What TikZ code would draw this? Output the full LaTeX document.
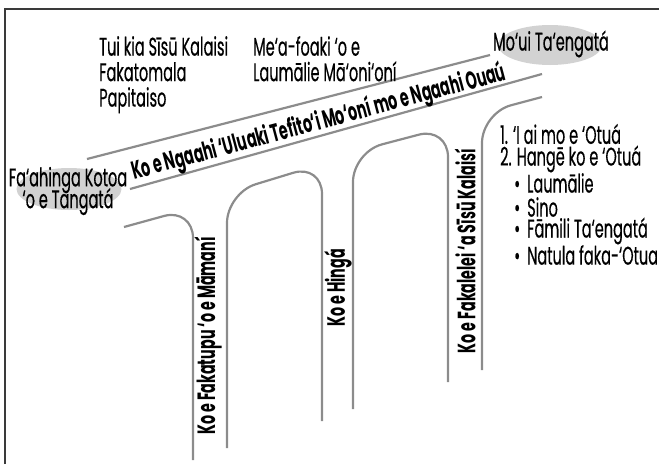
\documentclass[tikz,border=0pt]{standalone}
\usepackage{fontspec}
\setmainfont{Poppins}[FakeStretch=0.57]
\newfontfamily\regfont{Poppins}[FakeStretch=0.57, FakeBold=0.4]
\usetikzlibrary{shapes.geometric}
\definecolor{roadgray}{HTML}{8C8C8C}
\definecolor{blobgray}{HTML}{D2D2D2}
\definecolor{framegray}{HTML}{3A3A3A}
\begin{document}
\begin{tikzpicture}[x=1pt,y=-1pt,
  road/.style={draw=roadgray, line width=2.2pt, rounded corners=30pt},
  frameline/.style={draw=framegray, line width=2pt},
  blob/.style={ellipse, fill=blobgray, draw=none, inner sep=0pt},
  txt/.style={font=\regfont\fontsize{25.5}{25.5}\selectfont, inner sep=0pt},
  btxt/.style={font=\fontsize{25}{25}\selectfont\bfseries, inner sep=0pt}]
\useasboundingbox (0,0) rectangle (659,464);
% frame
\draw[frameline] (5,464) -- (5,9) -- (659,9);
% main road
\draw[road] (87,159) -- (490,55);
\draw[road] (130,189) -- (542,74);
% branch roads
\draw[road] (124,227) -- (193,208) -- (193,460);
\draw[road] (227,448) -- (227,193) -- (322,164) -- (322,421);
\draw[road] (353,409) -- (353,152) -- (448,127) -- (448,382);
\draw[road] (542,97) -- (482,113) -- (482,370);
% ellipses
\node[blob, minimum width=105pt, minimum height=42pt] (people) at (69,189) {};
\node[txt, align=center] (peopletxt) at (68,191) {Fa‘ahinga Kotoa\\[-6pt]‘o e Tangatá};
\node[blob, minimum width=104pt, minimum height=40pt] (health) at (550,45) {};
\node[txt] (healthtxt) at (551,44) {Mo‘ui Ta‘engatá};
% top texts
\node[txt, align=left, anchor=north west] (faith) at (99,36) {Tui kia Sīsū Kalaisi\\Fakatomala\\Papitaiso};
\node[txt, align=left, anchor=north west] (gift) at (253,36) {Me‘a-foaki ‘o e\\Laumālie Mā‘oni‘oní};
% road label
\node[btxt, rotate=15] (roadlbl) at (319,123) {Ko e Ngaahi ‘Uluaki Tefito‘i Mo‘oní mo e Ngaahi Ouaú};
% vertical labels
\node[btxt, rotate=90] (creation) at (208,336) {Ko e Fakatupu ‘o e Māmaní};
\node[btxt, rotate=90] (fall) at (338,288) {Ko e Hingá};
\node[btxt, rotate=90] (atone) at (465,251) {Ko e Fakalelei ‘a Sīsū Kalaisí};
% list
\node[txt, anchor=west] (l1) at (500,134) {1. ‘I ai mo e ‘Otuá};
\node[txt, anchor=west] (l2) at (500,159) {2. Hangē ko e ‘Otuá};
\node[txt, anchor=west] (b1) at (514,183) {•\hspace{7pt}Laumālie};
\node[txt, anchor=west] (b2) at (514,207) {•\hspace{7pt}Sino};
\node[txt, anchor=west] (b3) at (514,231) {•\hspace{7pt}Fāmili Ta‘engatá};
\node[txt, anchor=west] (b4) at (514,255) {•\hspace{7pt}Natula faka-‘Otua};
\end{tikzpicture}
\end{document}
